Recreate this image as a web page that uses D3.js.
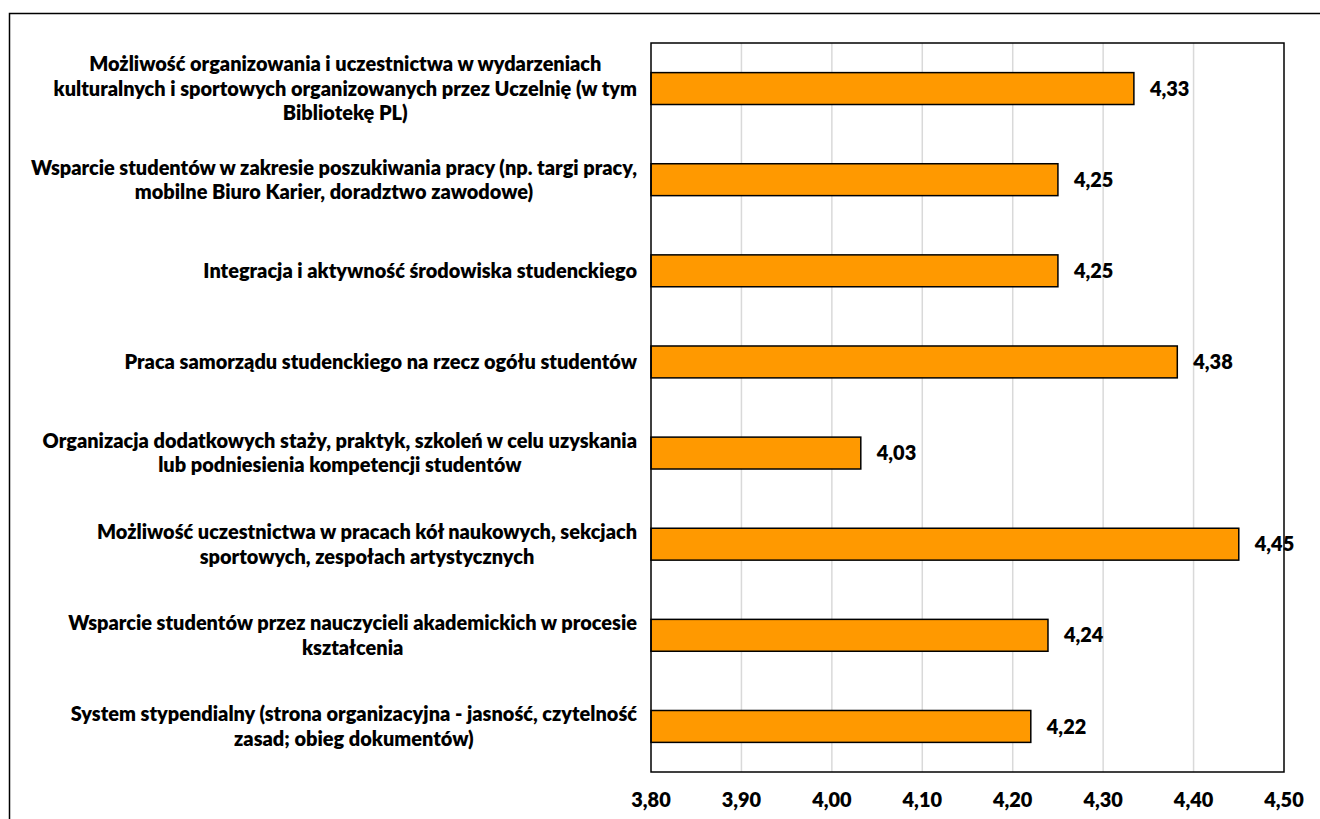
<!DOCTYPE html>
<html>
<head>
<meta charset="utf-8">
<script src="https://cdn.jsdelivr.net/npm/d3@7"></script>
<style>
  html, body { margin: 0; padding: 0; background: #fff; }
  svg { display: block; }
  text { font-family: Lato, "Open Sans", sans-serif; font-weight: 800; fill: #000; }
</style>
</head>
<body>
<svg id="chart" width="1320" height="819"></svg>
<script>
const categories = [
  ["Możliwość organizowania i uczestnictwa w wydarzeniach", "kulturalnych i sportowych organizowanych przez Uczelnię (w tym", "Bibliotekę PL)"],
  ["Wsparcie studentów w zakresie poszukiwania pracy (np. targi pracy,", "mobilne Biuro Karier, doradztwo zawodowe)"],
  ["Integracja i aktywność środowiska studenckiego"],
  ["Praca samorządu studenckiego na rzecz ogółu studentów"],
  ["Organizacja dodatkowych staży, praktyk, szkoleń w celu uzyskania", "lub podniesienia kompetencji studentów"],
  ["Możliwość uczestnictwa w pracach kół naukowych, sekcjach", "sportowych, zespołach artystycznych"],
  ["Wsparcie studentów przez nauczycieli akademickich w procesie", "kształcenia"],
  ["System stypendialny (strona organizacyjna - jasność, czytelność", "zasad; obieg dokumentów)"]
];
const values = [4.334, 4.25, 4.25, 4.382, 4.032, 4.45, 4.239, 4.22];
const valueLabels = ["4,33", "4,25", "4,25", "4,38", "4,03", "4,45", "4,24", "4,22"];
const tickValues = [3.8, 3.9, 4.0, 4.1, 4.2, 4.3, 4.4, 4.5];
const tickLabels = ["3,80", "3,90", "4,00", "4,10", "4,20", "4,30", "4,40", "4,50"];

const svg = d3.select("#chart");
const plot = { left: 651, right: 1284, top: 43, bottom: 772 };

// fit font size so the single-line label matches the reference width (~434px)
const probe = svg.append("text").style("font-size", "20px").text(categories[2][0]);
const probeW = probe.node().getComputedTextLength();
probe.remove();
const fontSize = Math.min(21, Math.max(15, 20 * 434 / probeW));

// outer border
svg.append("rect")
  .attr("x", 9.5).attr("y", 13.5).attr("width", 1400).attr("height", 900)
  .attr("fill", "none").attr("stroke", "#000").attr("stroke-width", 1.5);

const x = d3.scaleLinear().domain([3.8, 4.5]).range([plot.left, plot.right]);
const idx = d3.range(categories.length);
const y = d3.scaleBand().domain(idx).range([plot.top, plot.bottom])
  .paddingInner(0.65).paddingOuter(0.325);

// gridlines
svg.append("g").selectAll("line")
  .data(tickValues.slice(1, -1))
  .join("line")
  .attr("x1", d => x(d)).attr("x2", d => x(d))
  .attr("y1", plot.top).attr("y2", plot.bottom)
  .attr("stroke", "#d9d9d9").attr("stroke-width", 1.5);

// bars
svg.append("g").selectAll("rect")
  .data(idx)
  .join("rect")
  .attr("x", x(3.8))
  .attr("y", i => y(i))
  .attr("width", i => x(values[i]) - x(3.8))
  .attr("height", y.bandwidth())
  .attr("fill", "#ff9900")
  .attr("stroke", "#000").attr("stroke-width", 1.5);

// plot border
svg.append("rect")
  .attr("x", plot.left).attr("y", plot.top)
  .attr("width", plot.right - plot.left).attr("height", plot.bottom - plot.top)
  .attr("fill", "none").attr("stroke", "#000").attr("stroke-width", 1.5);

// value labels
svg.append("g").selectAll("text")
  .data(idx)
  .join("text")
  .attr("x", i => x(values[i]) + 16)
  .attr("y", i => y(i) + y.bandwidth() / 2)
  .attr("dy", "0.36em")
  .style("font-size", fontSize + "px")
  .text(i => valueLabels[i]);

// x axis tick labels
svg.append("g").selectAll("text")
  .data(tickValues)
  .join("text")
  .attr("x", d => x(d))
  .attr("y", 800)
  .attr("dy", "0.36em")
  .attr("text-anchor", "middle")
  .style("font-size", fontSize + "px")
  .text((d, i) => tickLabels[i]);

// category labels: box right-aligned to axis, lines centred within box
const labelRight = 637;
const lineH = 24.5;
const lg = svg.append("g");
idx.forEach(i => {
  const lines = categories[i];
  const cy = y(i) + y.bandwidth() / 2;
  const g = lg.append("g");
  const ts = lines.map((ln, k) => g.append("text")
    .attr("y", cy + (k - (lines.length - 1) / 2) * lineH)
    .attr("dy", "0.36em")
    .attr("text-anchor", "middle")
    .style("font-size", fontSize + "px")
    .text(ln));
  const maxW = d3.max(ts, t => t.node().getComputedTextLength());
  ts.forEach(t => t.attr("x", labelRight - maxW / 2));
});
</script>
</body>
</html>
